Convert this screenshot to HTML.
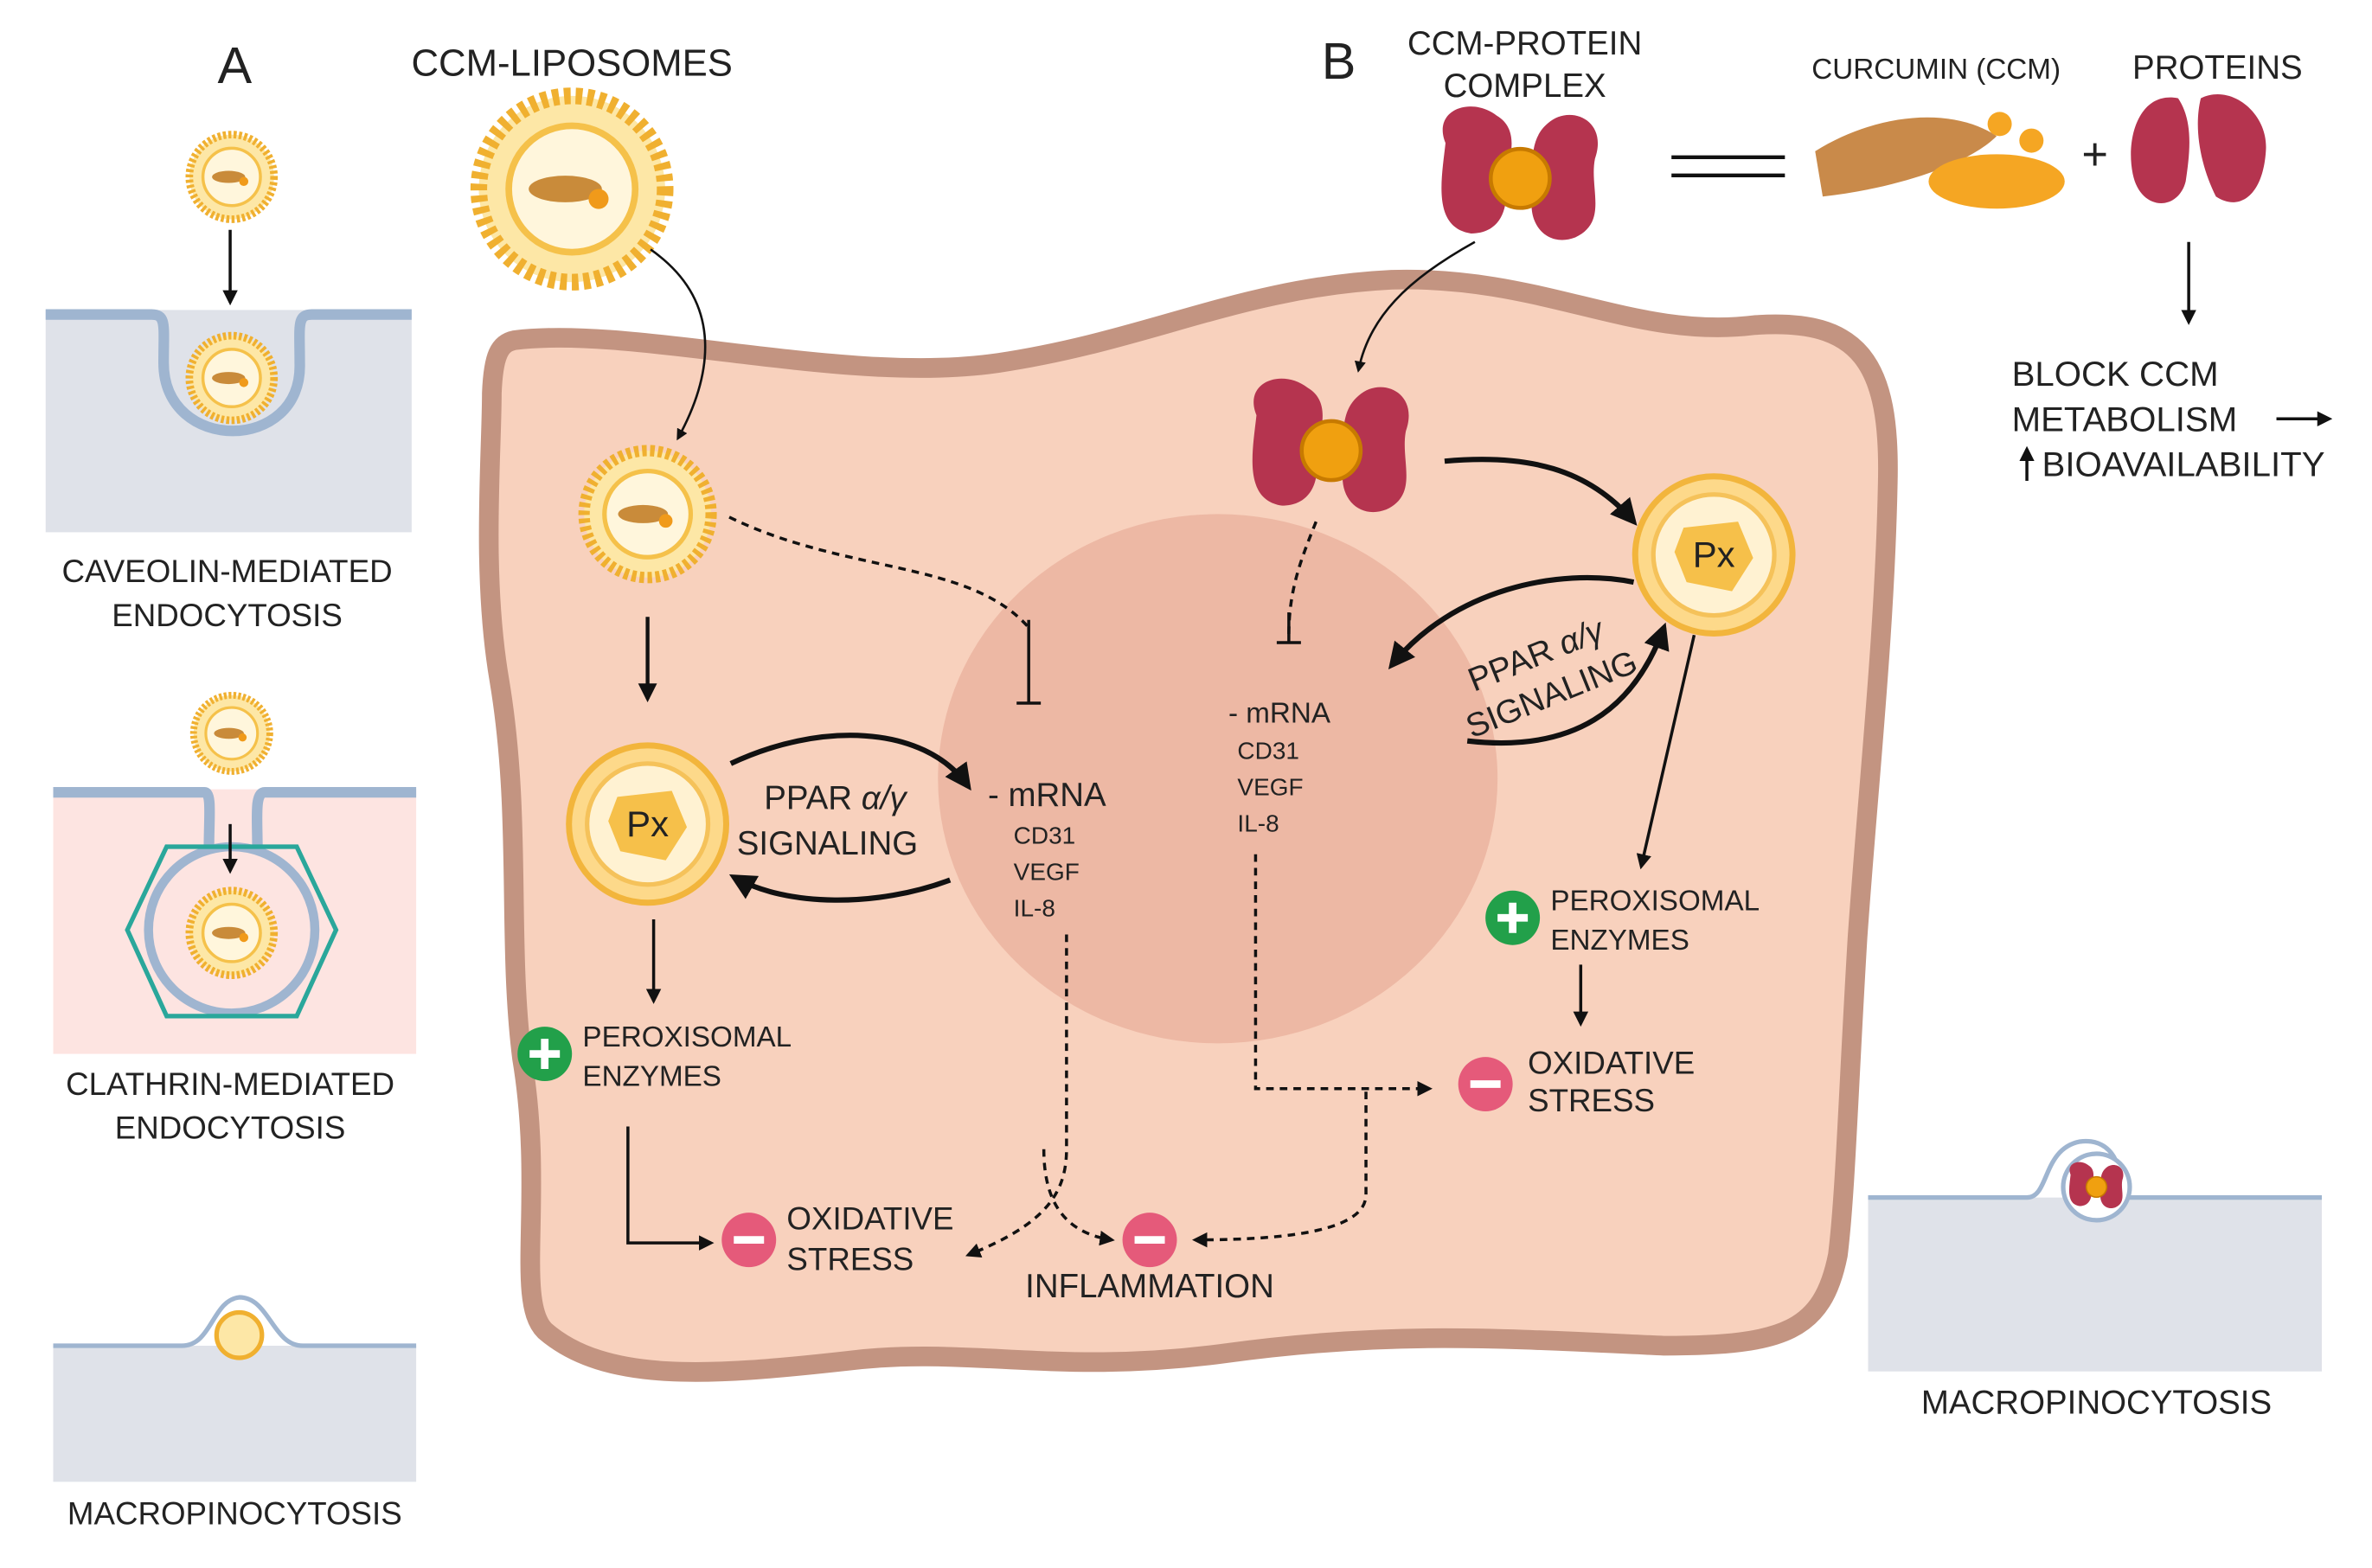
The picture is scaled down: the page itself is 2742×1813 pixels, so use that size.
<!DOCTYPE html>
<html><head><meta charset="utf-8"><style>
html,body{margin:0;padding:0;background:#fff}
svg{display:block}
text{font-family:"Liberation Sans",sans-serif;fill:#222}
</style></head><body>
<svg width="2742" height="1813" viewBox="0 0 1568 1037" xmlns="http://www.w3.org/2000/svg">
<defs>
<marker id="ah" viewBox="0 0 10 10" refX="8" refY="5" markerWidth="5" markerHeight="5" orient="auto"><path d="M0,0 L10,5 L0,10 z" fill="#111"/></marker>
<marker id="ahs" viewBox="0 0 10 10" refX="8" refY="5" markerWidth="7" markerHeight="7" orient="auto"><path d="M0,0 L10,5 L0,10 z" fill="#111"/></marker>
<g id="lip">
<circle r="28" fill="#fde7a6" stroke="#f0b030" stroke-width="5" stroke-dasharray="2 1.5"/>
<circle r="19" fill="#fff6dc" stroke="#f5c14a" stroke-width="2"/>
<ellipse cx="-2" cy="0" rx="11" ry="4" fill="#c98b3a"/>
<circle cx="8" cy="3" r="3" fill="#f09a1a"/>
</g>
<g id="prot">
<path d="M-38,-18 C-45,-35 -25,-42 -12,-32 C0,-25 -5,-10 -8,0 C-5,15 -10,28 -25,28 C-45,25 -40,0 -38,-18z" fill="#b5344f"/>
<path d="M38,-10 C45,-30 25,-38 14,-28 C2,-18 8,0 6,10 C4,25 15,35 28,30 C45,22 35,5 38,-10z" fill="#b5344f"/>
<circle r="15" fill="#f0a010" stroke="#c77a00" stroke-width="2"/>
</g>
<g id="px">
<circle r="52" fill="#fdd98a" stroke="#f2b53c" stroke-width="4"/>
<circle r="40" fill="#fff2d2" stroke="#f5c25a" stroke-width="3"/>
<path d="M-20,-18 L16,-22 L26,2 L12,24 L-18,18 L-26,-2z" fill="#f6c04a"/>
<text x="0" y="8" font-size="24" text-anchor="middle">Px</text>
</g>
<g id="plus"><circle r="18" fill="#22a04a"/><path d="M-10,0 H10 M0,-10 V10" stroke="#fff" stroke-width="5"/></g>
<g id="minus"><circle r="18" fill="#e55a7a"/><path d="M-10,0 H10" stroke="#fff" stroke-width="5"/></g>
</defs>

<!-- Left panel -->
<text x="155" y="55" font-size="34" text-anchor="middle">A</text>
<use href="#lip" x="153" y="117"/>
<line x1="152" y1="152" x2="152" y2="200" stroke="#111" stroke-width="2" marker-end="url(#ah)"/>
<rect x="30" y="205" width="242" height="147" fill="#dfe2e9"/>
<path d="M30,208 H100 C110,208 108,215 108,240 C108,300 200,300 198,240 C198,215 196,208 206,208 H272" fill="none" stroke="#9fb5d0" stroke-width="7"/>
<use href="#lip" x="153" y="250"/>
<text x="150" y="385" font-size="21" text-anchor="middle">CAVEOLIN-MEDIATED</text>
<text x="150" y="414" font-size="21" text-anchor="middle">ENDOCYTOSIS</text>
<use href="#lip" x="153" y="485" transform="translate(153 485) scale(0.9) translate(-153 -485)"/>
<rect x="35" y="522" width="240" height="175" fill="#fde4e1"/>
<path d="M35,524 H135 C140,524 138,540 138,560 M170,560 C170,540 168,524 175,524 H275" fill="none" stroke="#9fb5d0" stroke-width="7"/>
<circle cx="153" cy="615" r="55" fill="none" stroke="#9fb5d0" stroke-width="6"/>
<polygon points="110,560 196,560 222,615 196,672 110,672 84,615" fill="none" stroke="#2aa79b" stroke-width="3"/>
<line x1="152" y1="545" x2="152" y2="576" stroke="#111" stroke-width="2" marker-end="url(#ah)"/>
<use href="#lip" x="153" y="617"/>
<text x="152" y="724" font-size="21" text-anchor="middle">CLATHRIN-MEDIATED</text>
<text x="152" y="753" font-size="21" text-anchor="middle">ENDOCYTOSIS</text>
<rect x="35" y="890" width="240" height="90" fill="#dfe2e9"/>
<path d="M35,890 H120 C140,890 140,860 158,858 C178,858 180,890 200,890 H275" fill="none" stroke="#9fb5d0" stroke-width="3"/>
<circle cx="158" cy="883" r="15" fill="#fde7a6" stroke="#f0b030" stroke-width="3"/>
<text x="155" y="1008" font-size="21" text-anchor="middle">MACROPINOCYTOSIS</text>

<!-- Cell -->
<path d="M340,225 C420,215 560,255 660,240 C760,225 820,190 920,185 C1020,182 1080,225 1160,215 C1230,210 1250,240 1248,320 C1246,420 1235,520 1228,620 C1222,720 1220,790 1215,830 C1205,880 1180,890 1100,890 C990,885 920,880 810,895 C700,910 640,890 560,900 C470,910 400,915 360,880 C340,860 360,790 345,700 C335,620 345,540 330,450 C318,380 325,300 325,260 C326,235 330,227 340,225z" fill="#f8d1bd" stroke="#c39481" stroke-width="13"/>
<ellipse cx="805" cy="515" rx="185" ry="175" fill="#edb8a4"/>

<!-- CCM-liposomes -->
<text x="378" y="50" font-size="25" text-anchor="middle">CCM-LIPOSOMES</text>
<g transform="translate(378 125) scale(2.2)"><use href="#lip"/></g>
<path d="M430,165 C480,200 470,250 448,290" fill="none" stroke="#111" stroke-width="1.5" marker-end="url(#ah)"/>
<g transform="translate(428 340) scale(1.5)"><use href="#lip"/></g>
<path d="M482,342 C560,380 640,370 680,415" fill="none" stroke="#111" stroke-width="2" stroke-dasharray="5 4"/>
<line x1="680" y1="410" x2="680" y2="465" stroke="#111" stroke-width="2"/>
<line x1="672" y1="465" x2="688" y2="465" stroke="#111" stroke-width="2"/>
<line x1="428" y1="408" x2="428" y2="462" stroke="#111" stroke-width="2.5" marker-end="url(#ah)"/>
<use href="#px" x="428" y="545"/>
<path d="M483,505 C540,478 610,478 640,520" fill="none" stroke="#111" stroke-width="3.5" marker-end="url(#ah)"/>
<path d="M628,582 C580,600 520,600 485,580" fill="none" stroke="#111" stroke-width="3.5" marker-end="url(#ah)"/>
<text x="505" y="535" font-size="22">PPAR <tspan font-style="italic">α/γ</tspan></text>
<text x="487" y="565" font-size="22">SIGNALING</text>
<text x="653" y="533" font-size="22">- mRNA</text>
<text x="670" y="558" font-size="16">CD31</text>
<text x="670" y="582" font-size="16">VEGF</text>
<text x="670" y="606" font-size="16">IL-8</text>
<line x1="432" y1="608" x2="432" y2="662" stroke="#111" stroke-width="2" marker-end="url(#ah)"/>
<use href="#plus" x="360" y="697"/>
<text x="385" y="692" font-size="19">PEROXISOMAL</text>
<text x="385" y="718" font-size="19">ENZYMES</text>
<path d="M415,745 V822 H470" fill="none" stroke="#111" stroke-width="2" marker-end="url(#ah)"/>
<use href="#minus" x="495" y="820"/>
<text x="520" y="813" font-size="21">OXIDATIVE</text>
<text x="520" y="840" font-size="21">STRESS</text>
<path d="M705,618 V760 C705,790 690,810 640,830" fill="none" stroke="#111" stroke-width="2" stroke-dasharray="5 4" marker-end="url(#ah)"/>
<path d="M690,760 C690,790 700,815 735,820" fill="none" stroke="#111" stroke-width="2" stroke-dasharray="5 4" marker-end="url(#ah)"/>
<use href="#minus" x="760" y="820"/>
<text x="760" y="858" font-size="22" text-anchor="middle">INFLAMMATION</text>

<!-- B -->
<text x="885" y="52" font-size="34" text-anchor="middle">B</text>
<text x="1008" y="36" font-size="22" text-anchor="middle">CCM-PROTEIN</text>
<text x="1008" y="64" font-size="22" text-anchor="middle">COMPLEX</text>
<g transform="translate(1005 118) scale(1.3)"><use href="#prot"/></g>
<path d="M1105,104 H1180 M1105,116 H1180" stroke="#111" stroke-width="2.5"/>
<text x="1280" y="52" font-size="19" text-anchor="middle">CURCUMIN (CCM)</text>
<rect x="1195" y="62" width="180" height="80" fill="#fff"/>
<path d="M1200,100 C1240,75 1290,70 1320,90 C1300,110 1250,125 1205,130z" fill="#c98a4a"/>
<ellipse cx="1320" cy="120" rx="45" ry="18" fill="#f5a623"/>
<circle cx="1322" cy="82" r="8" fill="#f5a623"/><circle cx="1343" cy="93" r="8" fill="#f5a623"/>
<text x="1385" y="112" font-size="30" text-anchor="middle">+</text>
<text x="1466" y="52" font-size="22" text-anchor="middle">PROTEINS</text>
<path d="M1440,65 C1415,60 1405,90 1410,115 C1415,140 1440,140 1445,120 C1448,100 1450,80 1440,65z M1455,65 C1475,55 1500,75 1498,100 C1496,130 1480,140 1465,130 C1455,110 1450,85 1455,65z" fill="#b5344f"/>
<line x1="1447" y1="160" x2="1447" y2="213" stroke="#111" stroke-width="2" marker-end="url(#ah)"/>
<text x="1330" y="255" font-size="23">BLOCK CCM</text>
<text x="1330" y="285" font-size="23">METABOLISM</text>
<line x1="1505" y1="277" x2="1540" y2="277" stroke="#111" stroke-width="2" marker-end="url(#ah)"/>
<line x1="1340" y1="318" x2="1340" y2="297" stroke="#111" stroke-width="2" marker-end="url(#ah)"/>
<text x="1350" y="315" font-size="23">BIOAVAILABILITY</text>
<path d="M975,160 C930,185 905,210 898,245" fill="none" stroke="#111" stroke-width="1.5" marker-end="url(#ah)"/>
<g transform="translate(880 298) scale(1.3)"><use href="#prot"/></g>
<path d="M955,305 C1010,300 1050,310 1080,345" fill="none" stroke="#111" stroke-width="3.5" marker-end="url(#ah)"/>
<use href="#px" x="1133" y="367"/>
<path d="M870,345 C860,370 852,390 852,420" fill="none" stroke="#111" stroke-width="2" stroke-dasharray="5 4"/>
<line x1="852" y1="405" x2="852" y2="425" stroke="#111" stroke-width="2"/>
<line x1="844" y1="425" x2="860" y2="425" stroke="#111" stroke-width="2"/>
<path d="M1080,385 C1030,375 960,390 920,440" fill="none" stroke="#111" stroke-width="3.5" marker-end="url(#ah)"/>
<path d="M970,490 C1040,498 1080,470 1100,415" fill="none" stroke="#111" stroke-width="3.5" marker-end="url(#ah)"/>
<g transform="translate(1018 440) rotate(-22)"><text x="0" y="0" font-size="22" text-anchor="middle">PPAR <tspan font-style="italic">α/γ</tspan></text><text x="0" y="28" font-size="22" text-anchor="middle">SIGNALING</text></g>
<text x="812" y="478" font-size="19">- mRNA</text>
<text x="818" y="502" font-size="16">CD31</text>
<text x="818" y="526" font-size="16">VEGF</text>
<text x="818" y="550" font-size="16">IL-8</text>
<line x1="1120" y1="420" x2="1085" y2="573" stroke="#111" stroke-width="2" marker-end="url(#ah)"/>
<use href="#plus" x="1000" y="607"/>
<text x="1025" y="602" font-size="19">PEROXISOMAL</text>
<text x="1025" y="628" font-size="19">ENZYMES</text>
<line x1="1045" y1="638" x2="1045" y2="677" stroke="#111" stroke-width="2" marker-end="url(#ah)"/>
<use href="#minus" x="982" y="717"/>
<text x="1010" y="710" font-size="21">OXIDATIVE</text>
<text x="1010" y="735" font-size="21">STRESS</text>
<path d="M830,565 V720 H945" fill="none" stroke="#111" stroke-width="2" stroke-dasharray="5 4" marker-end="url(#ah)"/>
<path d="M903,722 V790 C903,812 860,820 790,820" fill="none" stroke="#111" stroke-width="2" stroke-dasharray="5 4" marker-end="url(#ah)"/>

<!-- right macropinocytosis -->
<rect x="1235" y="792" width="300" height="115" fill="#dfe2e9"/>
<path d="M1235,792 H1340 C1355,792 1350,760 1375,755 C1398,752 1405,775 1400,792 H1535" fill="none" stroke="#9fb5d0" stroke-width="3"/>
<circle cx="1386" cy="785" r="22" fill="#fff" stroke="#9fb5d0" stroke-width="3"/>
<g transform="translate(1386 785) scale(0.45)"><use href="#prot"/></g>
<text x="1386" y="935" font-size="22" text-anchor="middle">MACROPINOCYTOSIS</text>
</svg>
</body></html>
